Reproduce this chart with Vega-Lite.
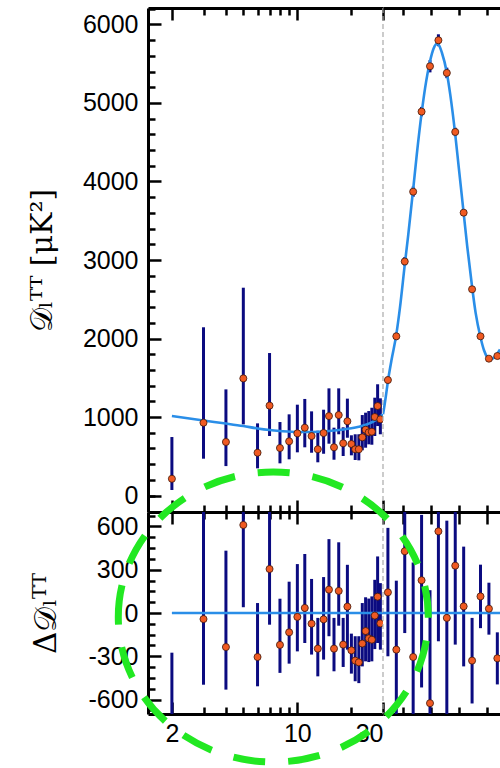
{
  "$schema": "https://vega.github.io/schema/vega-lite/v6.json",
  "background": "white",
  "padding": {"left": 27, "top": 6, "right": 0, "bottom": 0},
  "autosize": {"type": "pad"},
  "columns": 2,
  "spacing": {"row": 0, "column": 0},
  "bounds": "flush",
  "datasets": {
    "lowl": [
      {"ell": 2, "D": 213, "Dlo": 70, "Dhi": 745, "R": -800, "Rlo": -940, "Rhi": -275},
      {"ell": 3, "D": 927, "Dlo": 469, "Dhi": 2143, "R": -42, "Rlo": -497, "Rhi": 1180},
      {"ell": 4, "D": 682, "Dlo": 375, "Dhi": 1352, "R": -236, "Rlo": -531, "Rhi": 432},
      {"ell": 5, "D": 1492, "Dlo": 906, "Dhi": 2647, "R": 610, "Rlo": 40, "Rhi": 1740},
      {"ell": 6, "D": 545, "Dlo": 346, "Dhi": 919, "R": -305, "Rlo": -508, "Rhi": 69},
      {"ell": 7, "D": 1145, "Dlo": 758, "Dhi": 1815, "R": 305, "Rlo": -81, "Rhi": 980},
      {"ell": 8, "D": 605, "Dlo": 410, "Dhi": 936, "R": -221, "Rlo": -415, "Rhi": 99},
      {"ell": 9, "D": 690, "Dlo": 461, "Dhi": 1034, "R": -134, "Rlo": -351, "Rhi": 217},
      {"ell": 10, "D": 792, "Dlo": 550, "Dhi": 1157, "R": -27, "Rlo": -266, "Rhi": 339},
      {"ell": 11, "D": 864, "Dlo": 614, "Dhi": 1230, "R": 35, "Rlo": -208, "Rhi": 409},
      {"ell": 12, "D": 758, "Dlo": 545, "Dhi": 1072, "R": -74, "Rlo": -288, "Rhi": 236},
      {"ell": 13, "D": 589, "Dlo": 423, "Dhi": 825, "R": -247, "Rlo": -439, "Rhi": -34},
      {"ell": 14, "D": 796, "Dlo": 532, "Dhi": 1093, "R": -44, "Rlo": -323, "Rhi": 249},
      {"ell": 15, "D": 1012, "Dlo": 660, "Dhi": 1365, "R": 162, "Rlo": -161, "Rhi": 512},
      {"ell": 16, "D": 614, "Dlo": 456, "Dhi": 864, "R": -247, "Rlo": -404, "Rhi": -34},
      {"ell": 17, "D": 1025, "Dlo": 780, "Dhi": 1365, "R": 153, "Rlo": -88, "Rhi": 490},
      {"ell": 18, "D": 665, "Dlo": 503, "Dhi": 869, "R": -219, "Rlo": -374, "Rhi": -34},
      {"ell": 19, "D": 946, "Dlo": 736, "Dhi": 1234, "R": 44, "Rlo": -254, "Rhi": 334},
      {"ell": 20, "D": 656, "Dlo": 512, "Dhi": 767, "R": -259, "Rlo": -420, "Rhi": -143},
      {"ell": 21, "D": 589, "Dlo": 452, "Dhi": 780, "R": -330, "Rlo": -473, "Rhi": -161},
      {"ell": 22, "D": 589, "Dlo": 448, "Dhi": 780, "R": -342, "Rlo": -486, "Rhi": -161},
      {"ell": 23, "D": 741, "Dlo": 576, "Dhi": 1025, "R": -212, "Rlo": -370, "Rhi": 69},
      {"ell": 24, "D": 838, "Dlo": 609, "Dhi": 1055, "R": -125, "Rlo": -335, "Rhi": 109},
      {"ell": 25, "D": 805, "Dlo": 652, "Dhi": 1076, "R": -176, "Rlo": -340, "Rhi": 100},
      {"ell": 26, "D": 813, "Dlo": 647, "Dhi": 1118, "R": -185, "Rlo": -335, "Rhi": 115},
      {"ell": 27, "D": 1000, "Dlo": 758, "Dhi": 1246, "R": -18, "Rlo": -250, "Rhi": 230},
      {"ell": 28, "D": 1140, "Dlo": 885, "Dhi": 1417, "R": 113, "Rlo": -208, "Rhi": 392},
      {"ell": 29, "D": 971, "Dlo": 780, "Dhi": 1238, "R": -72, "Rlo": -254, "Rhi": 207}
    ],
    "highl": [
      {"ell": 47.5, "D": 1471, "Dlo": 1427, "Dhi": 1515, "R": 14.3, "Rlo": -30, "Rhi": 59},
      {"ell": 77.5, "D": 2028, "Dlo": 1980, "Dhi": 2076, "R": -25.4, "Rlo": -73, "Rhi": 22.4},
      {"ell": 107.5, "D": 2981, "Dlo": 2925, "Dhi": 3037, "R": 42.8, "Rlo": -13.9, "Rhi": 99},
      {"ell": 137.5, "D": 3870, "Dlo": 3805, "Dhi": 3935, "R": -30.5, "Rlo": -95, "Rhi": 35},
      {"ell": 167.5, "D": 4890, "Dlo": 4830, "Dhi": 4950, "R": 22.7, "Rlo": -51.6, "Rhi": 68},
      {"ell": 197.5, "D": 5468, "Dlo": 5390, "Dhi": 5546, "R": -62.5, "Rlo": -140, "Rhi": 15.8},
      {"ell": 227.5, "D": 5799, "Dlo": 5723, "Dhi": 5875, "R": 56.6, "Rlo": -19.6, "Rhi": 132},
      {"ell": 257.5, "D": 5383, "Dlo": 5316, "Dhi": 5450, "R": -3.4, "Rlo": -70.5, "Rhi": 64},
      {"ell": 287.5, "D": 4631, "Dlo": 4577, "Dhi": 4685, "R": 32.8, "Rlo": -21.9, "Rhi": 87},
      {"ell": 317.5, "D": 3603, "Dlo": 3562, "Dhi": 3644, "R": 4.6, "Rlo": -37, "Rhi": 46},
      {"ell": 347.5, "D": 2627, "Dlo": 2597, "Dhi": 2657, "R": -33, "Rlo": -62.7, "Rhi": -3.4},
      {"ell": 377.5, "D": 2028, "Dlo": 2006, "Dhi": 2050, "R": 11.5, "Rlo": -10.5, "Rhi": 33.5},
      {"ell": 407.5, "D": 1743, "Dlo": 1725, "Dhi": 1761, "R": 3, "Rlo": -15, "Rhi": 21},
      {"ell": 437.5, "D": 1777, "Dlo": 1759, "Dhi": 1795, "R": -31.4, "Rlo": -49.5, "Rhi": -13.4}
    ],
    "lowmodel": [
      {"ell": 2, "D": 1013}, {"ell": 3, "D": 955}, {"ell": 4, "D": 917}, {"ell": 5, "D": 885},
      {"ell": 6, "D": 854}, {"ell": 7, "D": 834}, {"ell": 8, "D": 822}, {"ell": 10, "D": 809},
      {"ell": 12, "D": 810}, {"ell": 15, "D": 822}, {"ell": 18, "D": 840}, {"ell": 20, "D": 856},
      {"ell": 22, "D": 876}, {"ell": 25, "D": 915}, {"ell": 27, "D": 955}, {"ell": 29, "D": 1005},
      {"ell": 30, "D": 1035}
    ],
    "highmodel": [
      {"ell": 30, "D": 1035}, {"ell": 35, "D": 1140}, {"ell": 40, "D": 1260}, {"ell": 47.5, "D": 1456},
      {"ell": 60, "D": 1720}, {"ell": 77.5, "D": 2052}, {"ell": 90, "D": 2380}, {"ell": 107.5, "D": 2938},
      {"ell": 120, "D": 3320}, {"ell": 137.5, "D": 3899}, {"ell": 150, "D": 4330}, {"ell": 167.5, "D": 4867},
      {"ell": 180, "D": 5190}, {"ell": 197.5, "D": 5529}, {"ell": 210, "D": 5690}, {"ell": 220, "D": 5750},
      {"ell": 227.5, "D": 5743}, {"ell": 240, "D": 5640}, {"ell": 257.5, "D": 5386}, {"ell": 270, "D": 5100},
      {"ell": 287.5, "D": 4598}, {"ell": 300, "D": 4180}, {"ell": 317.5, "D": 3598}, {"ell": 330, "D": 3180},
      {"ell": 347.5, "D": 2659}, {"ell": 360, "D": 2330}, {"ell": 377.5, "D": 2016}, {"ell": 390, "D": 1850},
      {"ell": 400, "D": 1770}, {"ell": 413, "D": 1735}, {"ell": 425, "D": 1755}, {"ell": 437.5, "D": 1807},
      {"ell": 447, "D": 1860}
    ],
    "split": [{"ell": 30}],
    "lowzero": [{"ell": 2, "ell2": 30, "R": 0}],
    "highzero": [{"ell": 30, "ell2": 447, "R": 0}],
    "highlight": [{"ell": -361, "R": -2.8}]
  },
  "concat": [
    {
      "width": 235,
      "height": 504,
      "resolve": {"axis": {"x": "independent", "y": "independent"}},
      "layer": [
        {
          "data": {"name": "lowl"},
          "mark": {"type": "rule", "color": "#0b0b80", "strokeWidth": 3, "clip": true},
          "encoding": {
            "x": {"field": "ell", "type": "quantitative", "scale": {"type": "log", "domain": [1.472, 30], "nice": false},
                  "axis": {"orient": "top", "values": [2, 10, 30], "tickSize": -12, "labels": false, "domain": true, "title": null}},
            "y": {"field": "Dlo", "type": "quantitative", "scale": {"domain": [-210, 6210], "nice": false, "zero": false},
                  "axis": {"orient": "left", "values": [0, 1000, 2000, 3000, 4000, 5000, 6000], "format": "d", "tickSize": -13,
                           "labelPadding": 23, "domain": true, "title": "𝒟ₗᵀᵀ [μK²]", "titleFont": "DejaVu Serif",
                           "titleFontSize": 30, "titleFontWeight": "normal", "titleColor": "black", "titlePadding": 25}},
            "y2": {"field": "Dhi"}
          }
        },
        {
          "data": {"name": "lowmodel"},
          "mark": {"type": "line", "color": "#2a8ee8", "strokeWidth": 2.6, "interpolate": "monotone", "clip": true},
          "encoding": {
            "x": {"field": "ell", "type": "quantitative", "scale": {"type": "log", "domain": [1.472, 30], "nice": false},
                  "axis": {"orient": "top", "values": [3, 4, 5, 6, 7, 8, 9, 20], "tickSize": -7, "labels": false, "domain": false, "title": null}},
            "y": {"field": "D", "type": "quantitative", "scale": {"domain": [-210, 6210], "nice": false, "zero": false},
                  "axis": {"orient": "left", "values": [0, 200, 400, 600, 800, 1200, 1400, 1600, 1800, 2200, 2400, 2600, 2800, 3200, 3400, 3600, 3800, 4200, 4400, 4600, 4800, 5200, 5400, 5600, 5800, 6200],
                           "tickSize": -7, "labels": false, "domain": false, "title": null}}
          }
        },
        {
          "data": {"name": "lowl"},
          "mark": {"type": "circle", "fill": "#f05a22", "stroke": "#40180a", "strokeWidth": 0.8, "size": 50, "opacity": 1, "clip": true},
          "encoding": {
            "x": {"field": "ell", "type": "quantitative", "scale": {"type": "log", "domain": [1.472, 30], "nice": false},
                  "axis": {"orient": "bottom", "values": [2, 10, 30], "tickSize": -12, "labels": false, "domain": true, "title": null}},
            "y": {"field": "D", "type": "quantitative", "scale": {"domain": [-210, 6210], "nice": false, "zero": false}, "axis": null}
          }
        },
        {
          "data": {"name": "split"},
          "mark": {"type": "rule", "color": "#aaaaaa", "strokeWidth": 1.2, "strokeDash": [5, 3]},
          "encoding": {
            "x": {"field": "ell", "type": "quantitative", "scale": {"type": "log", "domain": [1.472, 30], "nice": false},
                  "axis": {"orient": "bottom", "values": [3, 4, 5, 6, 7, 8, 9, 20], "tickSize": -7, "labels": false, "domain": false, "title": null}}
          }
        }
      ]
    },
    {
      "width": 117,
      "height": 504,
      "resolve": {"axis": {"x": "independent", "y": "independent"}},
      "layer": [
        {
          "data": {"name": "highl"},
          "mark": {"type": "rule", "color": "#0b0b80", "strokeWidth": 3, "clip": true},
          "encoding": {
            "x": {"field": "ell", "type": "quantitative", "scale": {"domain": [30, 447], "nice": false, "zero": false},
                  "axis": {"orient": "top", "values": [100, 200, 300, 400], "tickSize": -7, "labels": false, "domain": true, "title": null}},
            "y": {"field": "Dlo", "type": "quantitative", "scale": {"domain": [-210, 6210], "nice": false, "zero": false}, "axis": null},
            "y2": {"field": "Dhi"}
          }
        },
        {
          "data": {"name": "highmodel"},
          "mark": {"type": "line", "color": "#2a8ee8", "strokeWidth": 2.6, "interpolate": "monotone", "clip": true},
          "encoding": {
            "x": {"field": "ell", "type": "quantitative", "scale": {"domain": [30, 447], "nice": false, "zero": false},
                  "axis": {"orient": "bottom", "values": [100, 200, 300, 400], "tickSize": -7, "labels": false, "domain": true, "title": null}},
            "y": {"field": "D", "type": "quantitative", "scale": {"domain": [-210, 6210], "nice": false, "zero": false}, "axis": null}
          }
        },
        {
          "data": {"name": "highl"},
          "mark": {"type": "circle", "fill": "#f05a22", "stroke": "#40180a", "strokeWidth": 0.8, "size": 50, "opacity": 1, "clip": true},
          "encoding": {
            "x": {"field": "ell", "type": "quantitative", "scale": {"domain": [30, 447], "nice": false, "zero": false}, "axis": null},
            "y": {"field": "D", "type": "quantitative", "scale": {"domain": [-210, 6210], "nice": false, "zero": false}, "axis": null}
          }
        }
      ]
    },
    {
      "width": 235,
      "height": 202,
      "resolve": {"axis": {"x": "independent", "y": "independent"}},
      "layer": [
        {
          "data": {"name": "lowl"},
          "mark": {"type": "rule", "color": "#0b0b80", "strokeWidth": 3, "clip": true},
          "encoding": {
            "x": {"field": "ell", "type": "quantitative", "scale": {"type": "log", "domain": [1.472, 30], "nice": false},
                  "axis": {"orient": "bottom", "values": [2, 10, 30], "format": "d", "tickSize": -12, "labelPadding": 19, "domain": true, "title": null}},
            "y": {"field": "Rlo", "type": "quantitative", "scale": {"domain": [-700, 700], "nice": false, "zero": false},
                  "axis": {"orient": "left", "values": [-600, -300, 0, 300, 600], "tickSize": -13, "labelPadding": 23,
                           "labelExpr": "datum.value < 0 ? '-' + abs(datum.value) : '' + datum.value",
                           "domain": true, "title": "Δ𝒟ₗᵀᵀ", "titleFont": "DejaVu Serif", "titleFontSize": 31,
                           "titleFontWeight": "normal", "titleColor": "black", "titlePadding": 25}},
            "y2": {"field": "Rhi"}
          }
        },
        {
          "data": {"name": "lowzero"},
          "mark": {"type": "rule", "color": "#2a8ee8", "strokeWidth": 2.6},
          "encoding": {
            "x": {"field": "ell", "type": "quantitative", "scale": {"type": "log", "domain": [1.472, 30], "nice": false},
                  "axis": {"orient": "bottom", "values": [3, 4, 5, 6, 7, 8, 9, 20], "tickSize": -7, "labels": false, "domain": false, "title": null}},
            "x2": {"field": "ell2"},
            "y": {"field": "R", "type": "quantitative", "scale": {"domain": [-700, 700], "nice": false, "zero": false},
                  "axis": {"orient": "left", "values": [-675, -525, -450, -375, -225, -150, -75, 75, 150, 225, 375, 450, 525, 675],
                           "tickSize": -7, "labels": false, "domain": false, "title": null}}
          }
        },
        {
          "data": {"name": "lowl"},
          "mark": {"type": "circle", "fill": "#f05a22", "stroke": "#40180a", "strokeWidth": 0.8, "size": 50, "opacity": 1, "clip": true},
          "encoding": {
            "x": {"field": "ell", "type": "quantitative", "scale": {"type": "log", "domain": [1.472, 30], "nice": false},
                  "axis": {"orient": "top", "values": [2, 10, 30], "tickSize": -12, "labels": false, "domain": true, "title": null}},
            "y": {"field": "R", "type": "quantitative", "scale": {"domain": [-700, 700], "nice": false, "zero": false}, "axis": null}
          }
        },
        {
          "data": {"name": "split"},
          "mark": {"type": "rule", "color": "#aaaaaa", "strokeWidth": 1.2, "strokeDash": [5, 3]},
          "encoding": {
            "x": {"field": "ell", "type": "quantitative", "scale": {"type": "log", "domain": [1.472, 30], "nice": false},
                  "axis": {"orient": "top", "values": [3, 4, 5, 6, 7, 8, 9, 20], "tickSize": -7, "labels": false, "domain": false, "title": null}}
          }
        }
      ]
    },
    {
      "width": 117,
      "height": 202,
      "resolve": {"axis": {"x": "independent", "y": "independent"}},
      "layer": [
        {
          "data": {"name": "highl"},
          "mark": {"type": "rule", "color": "#0b0b80", "strokeWidth": 3, "clip": true},
          "encoding": {
            "x": {"field": "ell", "type": "quantitative", "scale": {"domain": [30, 447], "nice": false, "zero": false},
                  "axis": {"orient": "top", "values": [100, 200, 300, 400], "tickSize": -12, "labels": false, "domain": true, "title": null}},
            "y": {"field": "Rlo", "type": "quantitative", "scale": {"domain": [-70, 70], "nice": false, "zero": false}, "axis": null},
            "y2": {"field": "Rhi"}
          }
        },
        {
          "data": {"name": "highzero"},
          "mark": {"type": "rule", "color": "#2a8ee8", "strokeWidth": 2.6},
          "encoding": {
            "x": {"field": "ell", "type": "quantitative", "scale": {"domain": [30, 447], "nice": false, "zero": false},
                  "axis": {"orient": "bottom", "values": [100, 200, 300, 400], "tickSize": -7, "labels": false, "domain": true, "title": null}},
            "x2": {"field": "ell2"},
            "y": {"field": "R", "type": "quantitative", "scale": {"domain": [-70, 70], "nice": false, "zero": false}, "axis": null}
          }
        },
        {
          "data": {"name": "highl"},
          "mark": {"type": "circle", "fill": "#f05a22", "stroke": "#40180a", "strokeWidth": 0.8, "size": 50, "opacity": 1, "clip": true},
          "encoding": {
            "x": {"field": "ell", "type": "quantitative", "scale": {"domain": [30, 447], "nice": false, "zero": false}, "axis": null},
            "y": {"field": "R", "type": "quantitative", "scale": {"domain": [-70, 70], "nice": false, "zero": false}, "axis": null}
          }
        },
        {
          "data": {"name": "highlight"},
          "mark": {
            "type": "point",
            "shape": "M -1.069 0 C -1.069 -0.5523 -0.5904 -1 0 -1 C 0.5904 -1 1.069 -0.5523 1.069 0 C 1.069 0.5523 0.5904 1 0 1 C -0.5904 1 -1.069 0.5523 -1.069 0 Z",
            "size": 84100,
            "filled": false,
            "stroke": "#22e822",
            "strokeWidth": 7,
            "strokeDash": [32, 23],
            "opacity": 1,
            "clip": false
          },
          "encoding": {
            "x": {"field": "ell", "type": "quantitative", "scale": {"domain": [30, 447], "nice": false, "zero": false}, "axis": null},
            "y": {"field": "R", "type": "quantitative", "scale": {"domain": [-70, 70], "nice": false, "zero": false}, "axis": null}
          }
        }
      ]
    }
  ],
  "config": {
    "view": {"stroke": null},
    "axis": {
      "grid": false,
      "domainColor": "black",
      "domainWidth": 3,
      "tickColor": "black",
      "tickWidth": 2.5,
      "labelFont": "Liberation Sans",
      "labelFontSize": 25,
      "labelColor": "black"
    }
  }
}
